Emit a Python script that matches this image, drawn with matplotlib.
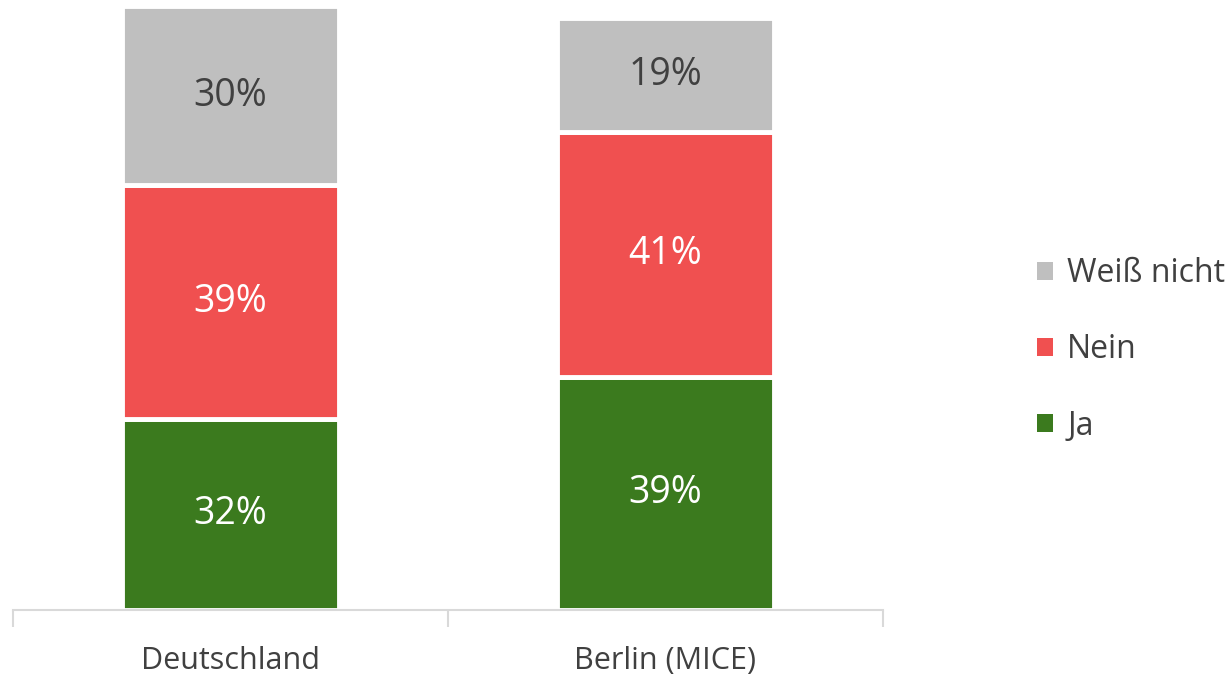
import numpy as np
import matplotlib.pyplot as plt

plt.rcParams['font.family'] = ['Open Sans', 'DejaVu Sans']

categories = ['Deutschland', 'Berlin (MICE)']
series = ['Ja', 'Nein', 'Weiß nicht']
ja = [32, 39]
nein = [39, 41]
weiss_nicht = [30, 19]

colors = ['#3B7A1E', '#F05050', '#BFBFBF']
text_colors = ['white', 'white', '#404040']

fig = plt.figure(figsize=(12.32, 6.77), dpi=100)
ax = fig.add_axes([13 / 1232, 0.099, 870 / 1232, 0.901])

x = np.arange(len(categories))
bottom = np.zeros(len(categories))
handles = []
for vals, name, c, tc in zip([ja, nein, weiss_nicht], series, colors, text_colors):
    bars = ax.bar(x, vals, width=0.5, bottom=bottom, color=c, edgecolor='white',
                  linewidth=3.5, label=name)
    handles.append(bars)
    for xi, b, v in zip(x, bottom, vals):
        ax.text(xi, b + v / 2, f'{v}%', ha='center', va='center', fontsize=27, color=tc)
    bottom += np.array(vals)

ax.set_xlim(-0.5, 1.5)
ax.set_ylim(0, 102)
ax.set_yticks([])
ax.set_xticks(x)
ax.set_xticklabels(categories, fontsize=22, color='#404040')
ax.tick_params(axis='x', which='major', length=0, pad=26)
ax.set_xticks([-0.5, 0.5, 1.5], minor=True)
ax.tick_params(axis='x', which='minor', length=12, width=1.5, color='#D9D9D9')
for s in ['top', 'right', 'left']:
    ax.spines[s].set_visible(False)
ax.spines['bottom'].set_color('#D9D9D9')
ax.spines['bottom'].set_linewidth(1.5)

leg = fig.legend(handles[::-1], series[::-1], loc='center left', bbox_to_anchor=(1008 / 1232, 1 - 350 / 677),
                 frameon=False, fontsize=23, handlelength=0.5, handleheight=0.5,
                 handletextpad=0.45, labelspacing=1.35, labelcolor='#404040')
for h in leg.legend_handles:
    h.set_linewidth(0)

fig.savefig('out.png', dpi=100)
